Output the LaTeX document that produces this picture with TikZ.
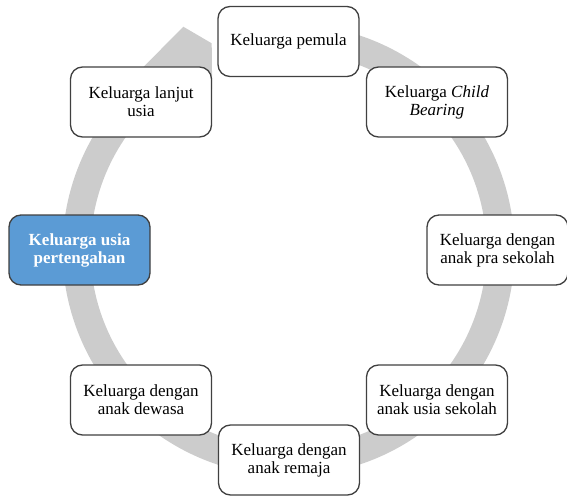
\documentclass[tikz,border=0pt]{standalone}
\usepackage{fontspec}
\setmainfont{Liberation Serif}
\usepackage{tikz}
\usetikzlibrary{calc}
\definecolor{ringgray}{RGB}{204,204,204}
\definecolor{boxline}{RGB}{64,64,64}
\definecolor{midblue}{RGB}{91,155,213}

\begin{document}
\begin{tikzpicture}[x=1pt, y=1pt,
    stage/.style = {draw=boxline, line width=1.3pt, fill=white, rounded corners=12pt,
                    minimum width=141pt, minimum height=70pt, inner sep=2pt,
                    align=center, font=\fontsize{17}{18}\selectfont},
    midstage/.style = {stage, fill=midblue, text=white, font=\fontsize{17}{18}\selectfont\bfseries}]
    \useasboundingbox (0, 0) rectangle (567, 496);
    \coordinate (c) at (288.5, 246);
    % grey cycle arrow
    \fill [ringgray] ($(c) + (102:226)$) arc [start angle=102, end angle=-227, radius=226]
      -- ($(c) + (-227:232)$) -- (183.3, 469.3) -- (211.7, 452.7) -- (212.2, 406.8)
      -- ($(c) + (-234:198)$) arc [start angle=-234, end angle=102, radius=198] -- cycle;
    % stages
    \node [stage] (pemula) at (288.5, 454.5) {Keluarga pemula};
    \node [stage] (childbearing) at (437, 394) {Keluarga \textit{Child}\\\textit{Bearing}};
    \node [stage] (prasekolah) at (497.5, 246) {Keluarga dengan\\anak pra sekolah};
    \node [stage] (usiasekolah) at (437, 96) {Keluarga dengan\\anak usia sekolah};
    \node [stage] (remaja) at (289, 36) {Keluarga dengan\\anak remaja};
    \node [stage] (dewasa) at (141, 96) {Keluarga dengan\\anak dewasa};
    \node [midstage] (pertengahan) at (79.5, 246) {Keluarga usia\\pertengahan};
    \node [stage] (lanjutusia) at (141, 394) {Keluarga lanjut\\usia};
\end{tikzpicture}
\end{document}
